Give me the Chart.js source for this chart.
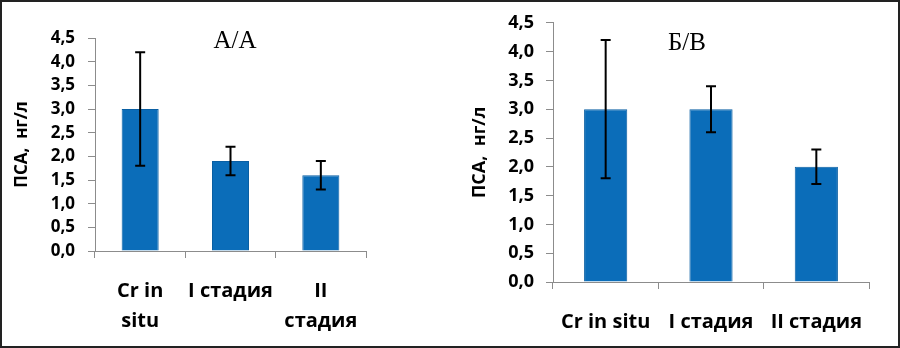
<!DOCTYPE html>
<html>
<head>
<meta charset="utf-8">
<script src="https://cdn.jsdelivr.net/npm/chart.js@4/dist/chart.umd.min.js"></script>
<style>
  html, body { margin: 0; padding: 0; background: #fff; }
  #frame { position: relative; width: 900px; height: 348px; box-sizing: border-box; border: 2px solid #222; overflow: hidden; }
  .box { position: absolute; top: -2px; height: 348px; }
  .ttl { position: absolute; font-family: "Liberation Serif", "DejaVu Serif", serif; font-size: 25px; color: #000; transform: translate(-50%, -50%); white-space: nowrap; }
</style>
</head>
<body>
<div id="frame">
  <div class="box" style="left:-2px;width:440px"><canvas id="grafA"></canvas></div>
  <div class="box" style="left:438px;width:460px"><canvas id="grafB"></canvas></div>
  <div class="ttl" style="left:233px;top:38px">А/А</div>
  <div class="ttl" style="left:685px;top:40px">Б/В</div>
</div>
<script>
// Datos
const categoriasA = [['Cr in', 'situ'], 'I стадия', ['II', 'стадия']];
const categoriasB = ['Cr in situ', 'I стадия', 'II стадия'];
const valoresA = [3.0, 1.9, 1.6];
const bajoA = [1.8, 1.6, 1.3];
const altoA = [4.2, 2.2, 1.9];
const valoresB = [3.0, 3.0, 2.0];
const bajoB = [1.8, 2.6, 1.7];
const altoB = [4.2, 3.4, 2.3];
const tituloEje = 'ПСА,  нг/л';

const colorBarra = '#0B6DB9';
const colorEje = '#8c8c8c';
const fuente = '"Open Sans", "DejaVu Sans", sans-serif';

// Plugin para las barras de error
const barrasError = {
  id: 'barrasError',
  afterDatasetsDraw(chart, args, opts) {
    const ctx = chart.ctx;
    const meta = chart.getDatasetMeta(0);
    const y = chart.scales.y;
    ctx.save();
    ctx.strokeStyle = '#000';
    ctx.lineWidth = 2;
    meta.data.forEach((bar, i) => {
      const yA = y.getPixelForValue(opts.alto[i]);
      const yB = y.getPixelForValue(opts.bajo[i]);
      ctx.beginPath();
      ctx.moveTo(bar.x, yA); ctx.lineTo(bar.x, yB);
      ctx.moveTo(bar.x - 5, yA); ctx.lineTo(bar.x + 5, yA);
      ctx.moveTo(bar.x - 5, yB); ctx.lineTo(bar.x + 5, yB);
      ctx.stroke();
    });
    ctx.restore();
  }
};

function crearGrafica(id, cfg) {
  const canvas = document.getElementById(id);
  return new Chart(canvas.getContext('2d'), {
    type: 'bar',
    data: {
      labels: cfg.etiquetas,
      datasets: [{
        data: cfg.valores,
        backgroundColor: colorBarra,
        borderColor: '#0A5FA3',
        borderWidth: 1,
        barPercentage: 0.41,
        categoryPercentage: 1
      }]
    },
    options: {
      responsive: true,
      maintainAspectRatio: false,
      animation: false,
      layout: { padding: { top: cfg.arriba, right: cfg.derecha, left: 0, bottom: 0 } },
      plugins: {
        legend: { display: false },
        tooltip: { enabled: false },
        barrasError: { alto: cfg.alto, bajo: cfg.bajo }
      },
      scales: {
        x: {
          grid: { drawOnChartArea: false, color: colorEje, tickLength: 7, offset: true },
          border: { color: colorEje, width: 1 },
          ticks: {
            color: '#000', maxRotation: 0, autoSkip: false, padding: cfg.padX,
            font: { family: fuente, weight: 'bold', size: 20, lineHeight: cfg.altoLinea }
          },
          afterFit: s => { s.height = cfg.altoX; }
        },
        y: {
          min: 0, max: 4.5,
          grid: { drawOnChartArea: false, color: colorEje, tickLength: 7 },
          border: { color: colorEje, width: 1 },
          ticks: {
            stepSize: 0.5, color: '#000', padding: cfg.padY,
            font: { family: fuente, weight: 'bold', size: cfg.tamTick },
            callback: v => v.toFixed(1).replace('.', ',')
          },
          title: {
            display: true, text: tituloEje, color: '#000',
            font: { family: fuente, weight: 'bold', size: cfg.tamTitulo, lineHeight: 1.2 },
            padding: { top: cfg.padTitulo, bottom: 0 }
          },
          afterFit: s => { s.width = cfg.anchoY; }
        }
      }
    },
    plugins: [barrasError]
  });
}

crearGrafica('grafA', {
  etiquetas: categoriasA, valores: valoresA, alto: altoA, bajo: bajoA,
  arriba: 38, derecha: 74, anchoY: 95, altoX: 97, padX: 18, altoLinea: 1.5,
  padY: 13, tamTick: 17, tamTitulo: 17, padTitulo: 12
});

crearGrafica('grafB', {
  etiquetas: categoriasB, valores: valoresB, alto: altoB, bajo: bajoB,
  arriba: 16, derecha: 31, anchoY: 113, altoX: 66, padX: 21, altoLinea: 1.2,
  padY: 12, tamTick: 18, tamTitulo: 18, padTitulo: 29
});
</script>
</body>
</html>
